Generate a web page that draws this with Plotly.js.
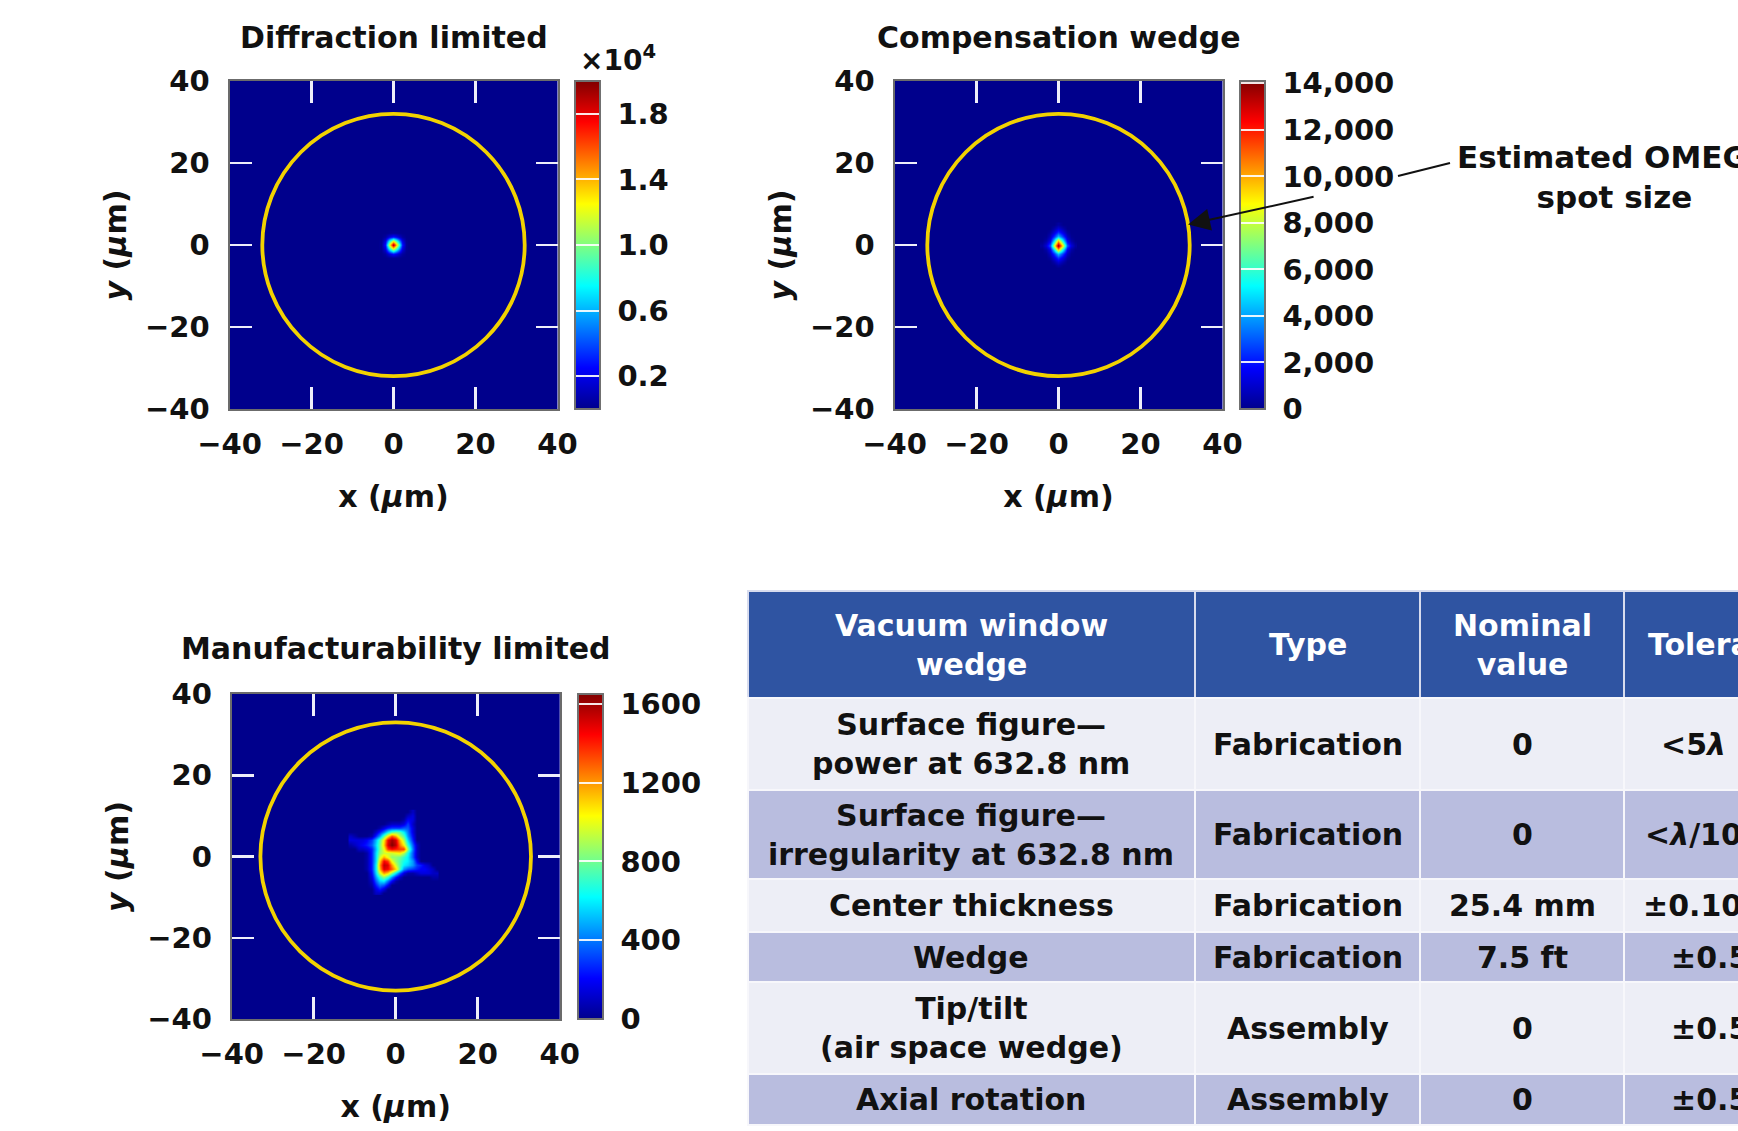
<!DOCTYPE html>
<html>
<head>
<meta charset="utf-8">
<script src="https://cdn.plot.ly/plotly-3.0.1.min.js"></script>
<style>
html,body{margin:0;padding:0;background:#ffffff;overflow:hidden;}
#frame{width:1738px;height:1131px;overflow:hidden;position:relative;}
#chart{width:1900px;height:1131px;}
</style>
</head>
<body>
<div id="frame"><div id="chart"></div></div>
<script>
// ---------------- data ----------------
const panelTitles = ['Diffraction limited', 'Compensation wedge', 'Manufacturability limited'];
const axisTickValues = [-40, -20, 0, 20, 40];
const innerTickValues = [-20, 0, 20];
const omegaSpotRadius = [32, 32, 33];           // µm, yellow circle
const annotationText = 'Estimated OMEGA<br>spot size';
const pointerAngleDeg = 9;                       // where the arrow touches the circle

// Diffraction limited spot (µm grid, intensity)
const spot1X = [-3, -2, -1, 0, 1, 2, 3];
const spot1Y = [-3, -2, -1, 0, 1, 2, 3];
const spot1Z = [
  [0,    0,   100,   150,   100,    0,   0],
  [0,  400,  1800,  2800,  1800,  400,   0],
  [100, 1800, 7500, 12000,  7500, 1800, 100],
  [150, 2800, 12000, 19500, 12000, 2800, 150],
  [100, 1800, 7500, 12000,  7500, 1800, 100],
  [0,  400,  1800,  2800,  1800,  400,   0],
  [0,    0,   100,   150,   100,    0,   0]
];
const colorbar1TickVals = [2000, 6000, 10000, 14000, 18000];
const colorbar1TickText = ['0.2', '0.6', '1.0', '1.4', '1.8'];

// Compensation wedge spot
const spot2X = [-4, -3, -2, -1, 0, 1, 2, 3, 4];
const spot2Y = [-5, -4, -3, -2, -1, 0, 1, 2, 3, 4, 5];
const spot2Z = [
  [0,    0,    0,    0,   300,    0,    0,    0,   0],
  [0,    0,    0,  500,  1200,  500,    0,    0,   0],
  [0,    0,  300, 1300,  2500, 1300,  300,    0,   0],
  [0,  100,  800, 2500,  4500, 2500,  800,  100,   0],
  [0,  400, 1500, 5000,  9500, 5000, 1500,  400,   0],
  [300, 1200, 3000, 8500, 14000, 8500, 3000, 1200, 300],
  [0,  400, 1500, 5000,  9500, 5000, 1500,  400,   0],
  [0,  100,  800, 2500,  4500, 2500,  800,  100,   0],
  [0,    0,  300, 1300,  2500, 1300,  300,    0,   0],
  [0,    0,    0,  500,  1200,  500,    0,    0,   0],
  [0,    0,    0,    0,   300,    0,    0,    0,   0]
];
const colorbar2TickVals = [0, 2000, 4000, 6000, 8000, 10000, 12000, 14000];
const colorbar2TickText = ['0', '2,000', '4,000', '6,000', '8,000', '10,000', '12,000', '14,000'];

// Manufacturability limited spot (rows from y = 11 down to y = -9)
const spot3X = [-11, -10, -9, -8, -7, -6, -5, -4, -3, -2, -1, 0, 1, 2, 3, 4, 5, 6, 7, 8, 9, 10];
const spot3Y = [11, 10, 9, 8, 7, 6, 5, 4, 3, 2, 1, 0, -1, -2, -3, -4, -5, -6, -7, -8, -9];
const spot3Z = [
  [0,0,0,0,0,0,0,0,0,0,0,0,0,0,0,100,0,0,0,0,0,0],
  [0,0,0,0,0,0,0,0,0,0,0,0,0,0,100,150,0,0,0,0,0,0],
  [0,0,0,0,0,0,0,0,0,0,0,0,0,50,200,150,0,0,0,0,0,0],
  [0,0,0,0,0,0,0,0,0,50,100,100,100,150,300,100,0,0,0,0,0,0],
  [0,0,0,0,0,0,0,50,150,250,300,300,300,350,350,150,0,0,0,0,0,0],
  [0,0,0,0,0,0,100,250,400,600,750,800,750,600,400,150,0,0,0,0,0,0],
  [100,50,0,0,0,50,250,450,750,1050,1300,1150,900,750,450,200,0,0,0,0,0,0],
  [150,150,150,150,200,300,500,750,1050,1450,1600,1500,1150,900,550,250,0,0,0,0,0,0],
  [50,100,150,200,250,350,550,800,1100,1500,1650,1550,1250,1050,700,350,100,0,0,0,0,0],
  [0,0,100,100,150,250,500,800,1000,1350,1450,1400,1350,1350,850,400,100,0,0,0,0,0],
  [0,0,0,0,50,250,550,850,950,950,950,1000,1050,900,650,350,100,0,0,0,0,0],
  [0,0,0,0,50,250,550,950,1150,1000,850,850,800,700,600,350,100,0,0,0,0,0],
  [0,0,0,0,50,250,550,1100,1450,1350,1000,850,750,650,600,450,200,0,0,0,0,0],
  [0,0,0,0,50,250,600,1200,1550,1500,1200,950,750,600,550,450,300,250,150,100,0,0],
  [0,0,0,0,50,250,600,1150,1500,1450,1300,1100,750,450,350,300,250,200,200,150,100,0],
  [0,0,0,0,0,200,550,950,1200,1100,850,600,350,150,50,50,100,150,150,150,100,100],
  [0,0,0,0,0,150,450,700,850,700,450,250,100,0,0,0,0,0,0,0,50,50],
  [0,0,0,0,0,100,350,550,600,400,200,50,0,0,0,0,0,0,0,0,0,0],
  [0,0,0,0,0,50,250,400,350,200,0,0,0,0,0,0,0,0,0,0,0,0],
  [0,0,0,0,0,0,150,250,150,0,0,0,0,0,0,0,0,0,0,0,0,0],
  [0,0,0,0,0,0,100,100,0,0,0,0,0,0,0,0,0,0,0,0,0,0]
];
const colorbar3TickVals = [0, 400, 800, 1200, 1600];
const colorbar3TickText = ['0', '400', '800', '1200', '1600'];

// Table
const tableHeader = ['Vacuum window<br>wedge', 'Type', 'Nominal<br>value', 'Tolerance'];
const windowParameters = ['Surface figure—<br>power at 632.8 nm', 'Surface figure—<br>irregularity at 632.8 nm',
  'Center thickness', 'Wedge', 'Tip/tilt<br>(air space wedge)', 'Axial rotation'];
const parameterTypes = ['Fabrication', 'Fabrication', 'Fabrication', 'Fabrication', 'Assembly', 'Assembly'];
const nominalValues = ['0', '0', '25.4 mm', '7.5 ft', '0', '0'];
const tolerances = ['<5<i>λ</i> P–V', '<<i>λ</i>/10 P–V', '±0.10 mm', '±0.5 ft', '±0.5 ft', '±0.5 ft'];

// ---------------- styling / layout ----------------
const W = 1900, H = 1131;
const FONT = 'DejaVu Sans, Liberation Sans, Arial, sans-serif';
const px = v => v / W;
const py = v => 1 - v / H;
const LABEL_GAP = '\u00a0';   // visual gap between colour bar and its labels

const jet = [[0, 'rgb(0,0,140)'], [0.125, 'rgb(0,0,255)'], [0.375, 'rgb(0,255,255)'],
             [0.625, 'rgb(255,255,0)'], [0.875, 'rgb(255,0,0)'], [1, 'rgb(128,0,0)']];

function colorbar(xLeft, yBottom, yTop, vals, text) {
  return {
    x: px(xLeft), xanchor: 'left', y: py(yBottom), yanchor: 'bottom',
    len: (yBottom - yTop) / H, lenmode: 'fraction', thickness: 25, thicknessmode: 'pixels',
    xpad: 0, ypad: 0, outlinecolor: '#707070', outlinewidth: 2, borderwidth: 0,
    tickmode: 'array', tickvals: vals, ticktext: text.map(t => LABEL_GAP + t),
    ticks: 'inside', ticklen: 25, tickwidth: 2, tickcolor: 'rgba(255,255,255,0.9)',
    tickfont: {family: FONT, size: 29, color: '#111', weight: 'bold'}
  };
}

function xAxis(d0, d1, anchor) {
  return {
    domain: [px(d0), px(d1)], anchor: anchor, range: [-40, 40], fixedrange: true, automargin: false,
    tickmode: 'array', tickvals: axisTickValues, ticks: '', showgrid: false, zeroline: false,
    showline: true, mirror: 'ticks', linecolor: '#6b6b6b', linewidth: 2,
    ticklabelstandoff: 8,
    tickfont: {family: FONT, size: 29, color: '#111', weight: 'bold'},
    minor: {tickmode: 'array', tickvals: innerTickValues, ticks: 'inside', ticklen: 22, tickwidth: 2.5,
            tickcolor: '#eeeefa', showgrid: false},
    title: {text: 'x (<i>μ</i>m)', standoff: 26, font: {family: FONT, size: 30, color: '#111', weight: 'bold'}}
  };
}
function yAxis(top, bottom, anchor) {
  return {
    domain: [py(bottom), py(top)], anchor: anchor, range: [-40, 40], fixedrange: true, automargin: false,
    tickmode: 'array', tickvals: axisTickValues, ticks: '', showgrid: false, zeroline: false,
    showline: true, mirror: 'ticks', linecolor: '#6b6b6b', linewidth: 2,
    ticklabelstandoff: 12,
    tickfont: {family: FONT, size: 29, color: '#111', weight: 'bold'},
    minor: {tickmode: 'array', tickvals: innerTickValues, ticks: 'inside', ticklen: 22, tickwidth: 2.5,
            tickcolor: '#eeeefa', showgrid: false},
    title: {text: '<i>y</i> (<i>μ</i>m)', standoff: 10, font: {family: FONT, size: 30, color: '#111', weight: 'bold'}}
  };
}

// pixel geometry of the three panels (left, right, top, bottom)
const P1 = [229.5, 557.5, 81, 409];
const P2 = [894.5, 1222.5, 81, 409];
const P3 = [231.7, 559.7, 694, 1019];

const traces = [
  {type: 'heatmap', x: spot1X, y: spot1Y, z: spot1Z, zmin: 0, zmax: 20000, zsmooth: 'best',
   colorscale: jet, xaxis: 'x', yaxis: 'y', hoverinfo: 'skip',
   colorbar: colorbar(575, P1[3], P1[2], colorbar1TickVals, colorbar1TickText)},
  {type: 'heatmap', x: spot2X, y: spot2Y, z: spot2Z, zmin: 0, zmax: 14100, zsmooth: 'best',
   colorscale: jet, xaxis: 'x2', yaxis: 'y2', hoverinfo: 'skip',
   colorbar: colorbar(1240, P2[3], P2[2], colorbar2TickVals, colorbar2TickText)},
  {type: 'heatmap', x: spot3X, y: spot3Y, z: spot3Z, zmin: 0, zmax: 1650, zsmooth: 'best',
   colorscale: jet, xaxis: 'x3', yaxis: 'y3', hoverinfo: 'skip',
   colorbar: colorbar(577.5, P3[3], P3[2], colorbar3TickVals, colorbar3TickText)}
];

const titleFont = {family: FONT, size: 30, color: '#111', weight: 'bold'};
const annotations = [
  {text: panelTitles[0], x: px((P1[0] + P1[1]) / 2), y: py(37), xref: 'paper', yref: 'paper', showarrow: false, font: titleFont, xanchor: 'center', yanchor: 'middle'},
  {text: panelTitles[1], x: px((P2[0] + P2[1]) / 2), y: py(37), xref: 'paper', yref: 'paper', showarrow: false, font: titleFont, xanchor: 'center', yanchor: 'middle'},
  {text: panelTitles[2], x: px((P3[0] + P3[1]) / 2), y: py(648), xref: 'paper', yref: 'paper', showarrow: false, font: titleFont, xanchor: 'center', yanchor: 'middle'},
  {text: '×10<sup>4</sup>', x: px(618), y: py(58), xref: 'paper', yref: 'paper', showarrow: false,
   font: {family: FONT, size: 28, color: '#111', weight: 'bold'}, xanchor: 'center', yanchor: 'middle'},
  {text: annotationText, x: px(1614), y: py(177), xref: 'paper', yref: 'paper', showarrow: false,
   font: {family: FONT, size: 31, color: '#111', weight: 'bold'}, xanchor: 'center', yanchor: 'middle'},
  {text: '', xref: 'x2', yref: 'y2',
   x: omegaSpotRadius[1] * Math.cos(pointerAngleDeg * Math.PI / 180),
   y: omegaSpotRadius[1] * Math.sin(pointerAngleDeg * Math.PI / 180),
   showarrow: true, axref: 'pixel', ayref: 'pixel', ax: 127, ay: -28,
   arrowhead: 2, arrowsize: 2.2, arrowwidth: 2, arrowcolor: '#111', standoff: 0}
];

function circle(xr, yr, r) {
  return {type: 'circle', xref: xr, yref: yr, x0: -r, x1: r, y0: -r, y1: r,
          line: {color: 'rgb(242,210,0)', width: 3.8}, layer: 'above'};
}
const shapes = [
  circle('x', 'y', omegaSpotRadius[0]),
  circle('x2', 'y2', omegaSpotRadius[1]),
  circle('x3', 'y3', omegaSpotRadius[2]),
  {type: 'line', xref: 'paper', yref: 'paper', x0: px(1398), y0: py(176), x1: px(1450), y1: py(163),
   line: {color: '#111', width: 2}}
];

// ---- table: cells built from the table arrays ----
const tableLeft = 748, tableTop = 591;
const tableColumnWidths = [447, 225, 204, 210];
const tableRowHeights = [107, 92, 89, 53, 50, 92, 51];   // header first
const headerFill = '#2f54a2', lightFill = '#edeef6', darkFill = '#b9bddf';
const tableColumns = [windowParameters, parameterTypes, nominalValues, tolerances];
const tableRows = [tableHeader].concat(windowParameters.map((_, r) => tableColumns.map(col => col[r])));

let rowTop = tableTop;
tableRows.forEach((row, r) => {
  const h = tableRowHeights[r];
  let colLeft = tableLeft;
  row.forEach((cellText, c) => {
    const w = tableColumnWidths[c];
    const fill = r === 0 ? headerFill : (r % 2 === 1 ? lightFill : darkFill);
    shapes.push({type: 'rect', xref: 'paper', yref: 'paper', layer: 'below',
      x0: px(colLeft), x1: px(colLeft + w), y0: py(rowTop + h), y1: py(rowTop),
      fillcolor: fill, line: {color: r === 0 ? '#d8dcee' : '#f7f7fb', width: 2}});
    annotations.push({text: cellText, xref: 'paper', yref: 'paper', showarrow: false,
      x: px(colLeft + w / 2), y: py(rowTop + h / 2), xanchor: 'center', yanchor: 'middle', align: 'center',
      font: {family: FONT, size: 30, color: r === 0 ? '#ffffff' : '#111111', weight: 'bold'}});
    colLeft += w;
  });
  rowTop += h;
});

const layout = {
  width: W, height: H, margin: {l: 0, r: 0, t: 0, b: 0, pad: 0},
  paper_bgcolor: '#ffffff', plot_bgcolor: 'rgb(0,0,140)',
  font: {family: FONT, color: '#111'},
  showlegend: false,
  xaxis: xAxis(P1[0], P1[1], 'y'), yaxis: yAxis(P1[2], P1[3], 'x'),
  xaxis2: xAxis(P2[0], P2[1], 'y2'), yaxis2: yAxis(P2[2], P2[3], 'x2'),
  xaxis3: xAxis(P3[0], P3[1], 'y3'), yaxis3: yAxis(P3[2], P3[3], 'x3'),
  annotations: annotations, shapes: shapes
};

Plotly.newPlot('chart', traces, layout, {staticPlot: true, displayModeBar: false});
</script>
</body>
</html>
